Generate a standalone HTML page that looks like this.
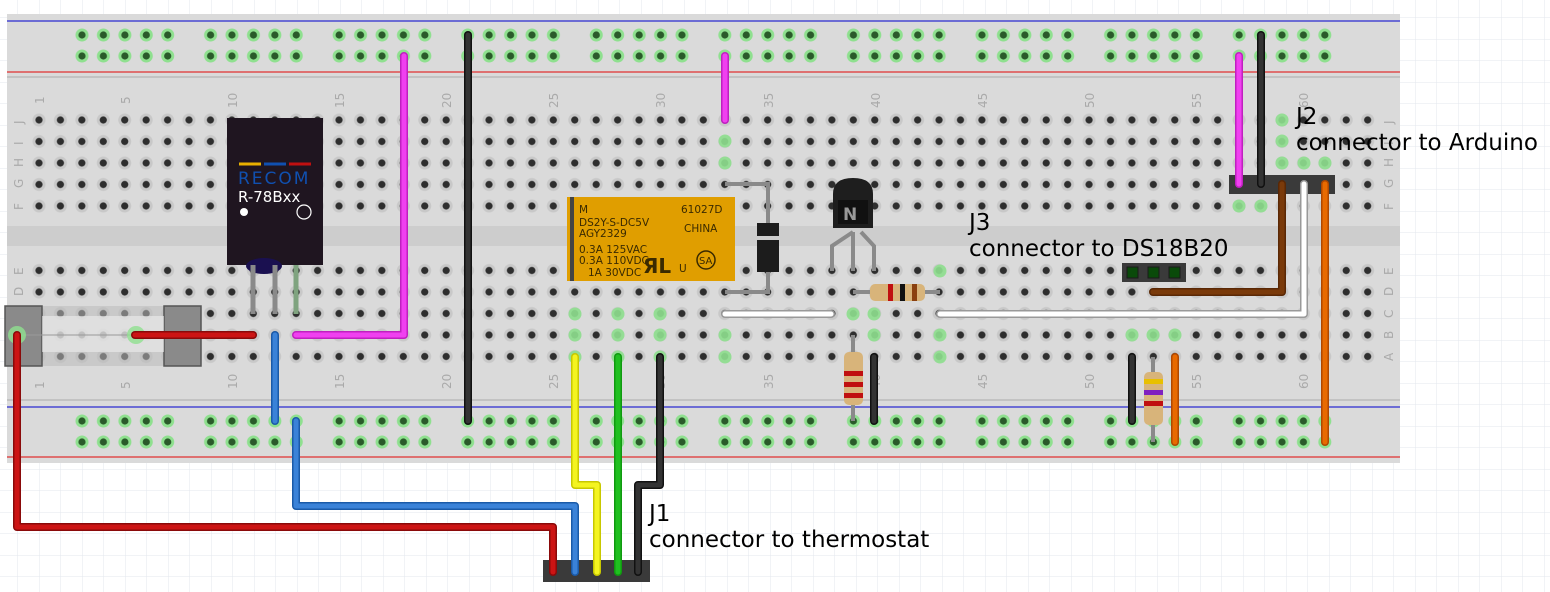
<!DOCTYPE html>
<html><head><meta charset="utf-8"><style>
html,body{margin:0;padding:0;background:#fff;}
svg{display:block}
text{font-family:"DejaVu Sans","Liberation Sans",sans-serif;}
</style></head><body>
<svg width="1550" height="592" viewBox="0 0 1550 592" xmlns="http://www.w3.org/2000/svg">
<defs>
<pattern id="grid" width="21.5" height="21.5" patternUnits="userSpaceOnUse" x="18" y="18">
<path d="M21.5 0V21.5H0" fill="none" stroke="#e3e7ee" stroke-width="1"/>
</pattern>
<pattern id="holes" width="21.43" height="21.5" patternUnits="userSpaceOnUse" x="28.3" y="109.25">
<circle cx="10.7" cy="10.75" r="6.5" fill="#c8c8c8"/>
<circle cx="10.7" cy="10.75" r="3.6" fill="#2e2e2e"/>
</pattern>
<pattern id="rail" width="128.57" height="21" patternUnits="userSpaceOnUse" x="71.3" y="24.5">
<g fill="#8fe08f"><circle cx="10.7" cy="10.5" r="6.5"/><circle cx="32.1" cy="10.5" r="6.5"/><circle cx="53.6" cy="10.5" r="6.5"/><circle cx="75" cy="10.5" r="6.5"/><circle cx="96.4" cy="10.5" r="6.5"/></g>
<g fill="#2a5a2a"><circle cx="10.7" cy="10.5" r="3.6"/><circle cx="32.1" cy="10.5" r="3.6"/><circle cx="53.6" cy="10.5" r="3.6"/><circle cx="75" cy="10.5" r="3.6"/><circle cx="96.4" cy="10.5" r="3.6"/></g>
</pattern>
<pattern id="rail2" width="128.57" height="21" patternUnits="userSpaceOnUse" x="71.3" y="410.5">
<g fill="#8fe08f"><circle cx="10.7" cy="10.5" r="6.5"/><circle cx="32.1" cy="10.5" r="6.5"/><circle cx="53.6" cy="10.5" r="6.5"/><circle cx="75" cy="10.5" r="6.5"/><circle cx="96.4" cy="10.5" r="6.5"/></g>
<g fill="#2a5a2a"><circle cx="10.7" cy="10.5" r="3.6"/><circle cx="32.1" cy="10.5" r="3.6"/><circle cx="53.6" cy="10.5" r="3.6"/><circle cx="75" cy="10.5" r="3.6"/><circle cx="96.4" cy="10.5" r="3.6"/></g>
</pattern>
</defs>
<rect width="1550" height="592" fill="url(#grid)"/>
<rect x="7" y="14" width="1393" height="449" fill="#dadada"/>
<rect x="7" y="226" width="1393" height="20" fill="#cdcdcd"/>
<line x1="7" y1="21" x2="1400" y2="21" stroke="#2b2bd0" stroke-width="1.3"/>
<line x1="7" y1="72" x2="1400" y2="72" stroke="#e03030" stroke-width="1.3"/>
<line x1="7" y1="77" x2="1400" y2="77" stroke="#c2c2c2" stroke-width="2"/>
<line x1="7" y1="400" x2="1400" y2="400" stroke="#c2c2c2" stroke-width="2"/>
<line x1="7" y1="407" x2="1400" y2="407" stroke="#2b2bd0" stroke-width="1.3"/>
<line x1="7" y1="457" x2="1400" y2="457" stroke="#e03030" stroke-width="1.3"/>
<rect x="71.3" y="24.5" width="1285.7" height="42" fill="url(#rail)"/>
<rect x="71.3" y="410.5" width="1285.7" height="42" fill="url(#rail2)"/>
<rect x="28.3" y="109.25" width="1350.1" height="107.5" fill="url(#holes)"/>
<rect x="28.3" y="260.25" width="1350.1" height="107.5" fill="url(#holes)"/>
<!-- green highlighted holes (connected columns) -->
<g fill="#8fe08f" opacity="0.9">
<circle cx="575" cy="314" r="6.5"/><circle cx="575" cy="335" r="6.5"/><circle cx="575" cy="357" r="6.5"/>
<circle cx="618" cy="314" r="6.5"/><circle cx="618" cy="335" r="6.5"/><circle cx="618" cy="357" r="6.5"/>
<circle cx="660" cy="314" r="6.5"/><circle cx="660" cy="335" r="6.5"/><circle cx="660" cy="357" r="6.5"/>
<circle cx="725" cy="141" r="6.5"/><circle cx="725" cy="163" r="6.5"/><circle cx="725" cy="335" r="6.5"/><circle cx="725" cy="357" r="6.5"/>
<circle cx="874" cy="314" r="6.5"/><circle cx="874" cy="335" r="6.5"/><circle cx="853" cy="314" r="6.5"/>
<circle cx="940" cy="271" r="6.5"/><circle cx="940" cy="335" r="6.5"/><circle cx="940" cy="357" r="6.5"/>
<circle cx="1153" cy="335" r="6.5"/><circle cx="1132" cy="335" r="6.5"/><circle cx="1175" cy="335" r="6.5"/>
<circle cx="1282" cy="120" r="6.5"/><circle cx="1282" cy="141" r="6.5"/><circle cx="1282" cy="163" r="6.5"/>
<circle cx="1304" cy="163" r="6.5"/><circle cx="1325" cy="163" r="6.5"/>
<circle cx="1239" cy="206" r="6.5"/><circle cx="1261" cy="206" r="6.5"/>
</g>
<g fill="#aaa" font-size="12">
<g transform="translate(44,104) rotate(-90)"><text>1</text></g>
<g transform="translate(130,104) rotate(-90)"><text>5</text></g>
<g transform="translate(237,108) rotate(-90)"><text>10</text></g>
<g transform="translate(344,108) rotate(-90)"><text>15</text></g>
<g transform="translate(451,108) rotate(-90)"><text>20</text></g>
<g transform="translate(558,108) rotate(-90)"><text>25</text></g>
<g transform="translate(665,108) rotate(-90)"><text>30</text></g>
<g transform="translate(773,108) rotate(-90)"><text>35</text></g>
<g transform="translate(880,108) rotate(-90)"><text>40</text></g>
<g transform="translate(987,108) rotate(-90)"><text>45</text></g>
<g transform="translate(1094,108) rotate(-90)"><text>50</text></g>
<g transform="translate(1201,108) rotate(-90)"><text>55</text></g>
<g transform="translate(1308,108) rotate(-90)"><text>60</text></g>
<g transform="translate(44,389) rotate(-90)"><text>1</text></g>
<g transform="translate(130,389) rotate(-90)"><text>5</text></g>
<g transform="translate(237,389) rotate(-90)"><text>10</text></g>
<g transform="translate(344,389) rotate(-90)"><text>15</text></g>
<g transform="translate(451,389) rotate(-90)"><text>20</text></g>
<g transform="translate(558,389) rotate(-90)"><text>25</text></g>
<g transform="translate(665,389) rotate(-90)"><text>30</text></g>
<g transform="translate(773,389) rotate(-90)"><text>35</text></g>
<g transform="translate(880,389) rotate(-90)"><text>40</text></g>
<g transform="translate(987,389) rotate(-90)"><text>45</text></g>
<g transform="translate(1094,389) rotate(-90)"><text>50</text></g>
<g transform="translate(1201,389) rotate(-90)"><text>55</text></g>
<g transform="translate(1308,389) rotate(-90)"><text>60</text></g>
<g transform="translate(23,124) rotate(-90)"><text>J</text></g>
<g transform="translate(23,145) rotate(-90)"><text>I</text></g>
<g transform="translate(23,167) rotate(-90)"><text>H</text></g>
<g transform="translate(23,188) rotate(-90)"><text>G</text></g>
<g transform="translate(23,210) rotate(-90)"><text>F</text></g>
<g transform="translate(23,275) rotate(-90)"><text>E</text></g>
<g transform="translate(23,296) rotate(-90)"><text>D</text></g>
<g transform="translate(1393,124) rotate(-90)"><text>J</text></g>
<g transform="translate(1393,145) rotate(-90)"><text>I</text></g>
<g transform="translate(1393,167) rotate(-90)"><text>H</text></g>
<g transform="translate(1393,188) rotate(-90)"><text>G</text></g>
<g transform="translate(1393,210) rotate(-90)"><text>F</text></g>
<g transform="translate(1393,275) rotate(-90)"><text>E</text></g>
<g transform="translate(1393,296) rotate(-90)"><text>D</text></g>
<g transform="translate(1393,318) rotate(-90)"><text>C</text></g>
<g transform="translate(1393,339) rotate(-90)"><text>B</text></g>
<g transform="translate(1393,361) rotate(-90)"><text>A</text></g>
</g>
<!-- fuse holder -->
<rect x="5" y="306" width="196" height="60" fill="#bbb" opacity="0.55"/>
<rect x="5" y="306" width="37" height="60" fill="#8a8a8a" stroke="#555" stroke-width="1.5"/>
<rect x="164" y="306" width="37" height="60" fill="#8a8a8a" stroke="#555" stroke-width="1.5"/>
<rect x="42" y="316" width="122" height="36" fill="#eee" opacity="0.6"/>
<line x1="17" y1="335" x2="140" y2="335" stroke="#999"/>
<circle cx="17" cy="335" r="9" fill="#8fe08f" opacity="0.8"/>
<circle cx="136" cy="335" r="9" fill="#8fe08f" opacity="0.8"/>
<!-- regulator -->
<rect x="227" y="118" width="96" height="147" fill="#1f1520"/>
<ellipse cx="264" cy="266" rx="18" ry="8" fill="#1a1050"/>
<g stroke="#8a8a8a" stroke-width="5"><line x1="253" y1="265" x2="253" y2="314"/><line x1="275" y1="265" x2="275" y2="314"/></g>
<line x1="296" y1="265" x2="296" y2="314" stroke="#7fa37f" stroke-width="5"/>
<line x1="239" y1="164" x2="261" y2="164" stroke="#e8b000" stroke-width="3"/>
<line x1="264" y1="164" x2="286" y2="164" stroke="#1050b0" stroke-width="3"/>
<line x1="289" y1="164" x2="311" y2="164" stroke="#c01010" stroke-width="3"/>
<text x="238" y="184" fill="#1050b0" font-size="17" letter-spacing="2">RECOM</text>
<text x="238" y="202" fill="#fff" font-size="15">R-78Bxx</text>
<circle cx="244" cy="212" r="4" fill="#fff"/>
<circle cx="304" cy="212" r="7" fill="none" stroke="#fff" stroke-width="1.2"/>
<!-- relay -->
<rect x="567" y="197" width="168" height="84" fill="#e09e00"/>
<rect x="570" y="197" width="4" height="84" fill="#444"/>
<g fill="#3a2a00" font-size="10.5">
<text x="579" y="213">M</text><text x="681" y="213">61027D</text>
<text x="579" y="226">DS2Y-S-DC5V</text><text x="684" y="232">CHINA</text>
<text x="579" y="237">AGY2329</text>
<text x="579" y="253">0.3A 125VAC</text><text x="579" y="264">0.3A 110VDC</text><text x="588" y="276">1A  30VDC</text>
<text x="643" y="273" font-size="20" font-weight="bold">ЯL</text>
<text x="679" y="272">U</text>
<circle cx="706" cy="260" r="9" fill="none" stroke="#3a2a00" stroke-width="1.5"/><text x="699" y="264" font-size="10">SA</text>
</g>
<!-- diode -->
<polyline points="725,184 768,184 768,292 725,292" fill="none" stroke="#8a8a8a" stroke-width="4"/>
<rect x="757" y="223" width="22" height="49" fill="#1c1c1c"/>
<rect x="757" y="236" width="22" height="4" fill="#ccc"/>
<!-- transistor -->
<g stroke="#8a8a8a" stroke-width="4" fill="none"><polyline points="853,232 832,246 832,271"/><line x1="853" y1="232" x2="853" y2="271"/><polyline points="861,232 874,246 874,271"/></g>
<path d="M833 194 Q833 178 853 178 Q873 178 873 194 V228 H833Z" fill="#1e1e1e"/>
<rect x="838" y="200" width="30" height="24" fill="#111"/>
<text x="843" y="220" fill="#999" font-size="17" font-weight="bold">N</text>
<!-- resistors -->
<line x1="853" y1="292" x2="940" y2="292" stroke="#8a8a8a" stroke-width="4"/>
<rect x="870" y="284" width="55" height="17" rx="5" fill="#d8b47a"/>
<rect x="888" y="284" width="5" height="17" fill="#c01010"/><rect x="900" y="284" width="5" height="17" fill="#111"/><rect x="912" y="284" width="5" height="17" fill="#8a4010"/>
<line x1="853" y1="335" x2="853" y2="421" stroke="#8a8a8a" stroke-width="4"/>
<rect x="844" y="352" width="19" height="53" rx="5" fill="#d8b47a"/>
<rect x="844" y="371" width="19" height="5" fill="#c01010"/><rect x="844" y="382" width="19" height="5" fill="#c01010"/><rect x="844" y="393" width="19" height="5" fill="#c01010"/>
<line x1="1153" y1="357" x2="1153" y2="442" stroke="#8a8a8a" stroke-width="4"/>
<rect x="1144" y="372" width="19" height="53" rx="5" fill="#d8b47a"/>
<rect x="1144" y="379" width="19" height="5" fill="#e8c000"/><rect x="1144" y="390" width="19" height="5" fill="#8020c0"/><rect x="1144" y="401" width="19" height="5" fill="#c01010"/>
<!-- headers -->
<rect x="1122" y="263" width="64" height="19" fill="#3a3a3a"/>
<g fill="#0a4a0a" stroke="#1a1a1a" stroke-width="1"><rect x="1127" y="267" width="11" height="11"/><rect x="1148" y="267" width="11" height="11"/><rect x="1169" y="267" width="11" height="11"/></g>
<rect x="1229" y="175" width="106" height="19" fill="#3a3a3a"/>
<rect x="543" y="560" width="107" height="22" fill="#3a3a3a"/>
<!-- wires -->
<g fill="none" stroke-linecap="round" stroke-linejoin="round" stroke-width="8">
<polyline points="17,335 17,527 553,527 553,572" stroke="#8a0a0a"/>
<polyline points="135,335 253,335" stroke="#8a0a0a"/>
<polyline points="296,335 404,335 404,56" stroke="#c020c0"/>
<polyline points="725,56 725,120" stroke="#c020c0"/>
<polyline points="1239,56 1239,184" stroke="#c020c0"/>
<polyline points="275,335 275,421" stroke="#1a5aa8"/>
<polyline points="296,421 296,506 575,506 575,572" stroke="#1a5aa8"/>
<polyline points="468,35 468,421" stroke="#111"/>
<polyline points="1261,35 1261,184" stroke="#111"/>
<polyline points="874,357 874,421" stroke="#111"/>
<polyline points="1132,357 1132,421" stroke="#111"/>
<polyline points="660,357 660,485 638,485 638,572" stroke="#111"/>
<polyline points="575,357 575,485 597,485 597,572" stroke="#c8c800"/>
<polyline points="618,357 618,572" stroke="#109a10"/>
<polyline points="725,314 831,314" stroke="#999"/>
<polyline points="940,314 1304,314 1304,184" stroke="#999"/>
<polyline points="1153,292 1282,292 1282,184" stroke="#5a2805"/>
<polyline points="1325,184 1325,442" stroke="#b04800"/>
<polyline points="1175,357 1175,442" stroke="#b04800"/>
</g>
<g fill="none" stroke-linecap="round" stroke-linejoin="round" stroke-width="5">
<polyline points="17,335 17,527 553,527 553,572" stroke="#cc1414"/>
<polyline points="135,335 253,335" stroke="#cc1414"/>
<polyline points="296,335 404,335 404,56" stroke="#f040f0"/>
<polyline points="725,56 725,120" stroke="#f040f0"/>
<polyline points="1239,56 1239,184" stroke="#f040f0"/>
<polyline points="275,335 275,421" stroke="#3a82d8"/>
<polyline points="296,421 296,506 575,506 575,572" stroke="#3a82d8"/>
<polyline points="468,35 468,421" stroke="#333"/>
<polyline points="1261,35 1261,184" stroke="#333"/>
<polyline points="874,357 874,421" stroke="#333"/>
<polyline points="1132,357 1132,421" stroke="#333"/>
<polyline points="660,357 660,485 638,485 638,572" stroke="#333"/>
<polyline points="575,357 575,485 597,485 597,572" stroke="#f4f420"/>
<polyline points="618,357 618,572" stroke="#20c020"/>
<polyline points="725,314 831,314" stroke="#fff"/>
<polyline points="940,314 1304,314 1304,184" stroke="#fff"/>
<polyline points="1153,292 1282,292 1282,184" stroke="#7a3a0a"/>
<polyline points="1325,184 1325,442" stroke="#e86a00"/>
<polyline points="1175,357 1175,442" stroke="#e86a00"/>
</g>
<g fill="#000" font-size="23">
<text x="649" y="521">J1</text>
<text x="649" y="547">connector to thermostat</text>
<text x="1296" y="124">J2</text>
<text x="1296" y="150">connector to Arduino</text>
<text x="969" y="230">J3</text>
<text x="969" y="256">connector to DS18B20</text>
</g>
</svg>
</body></html>
